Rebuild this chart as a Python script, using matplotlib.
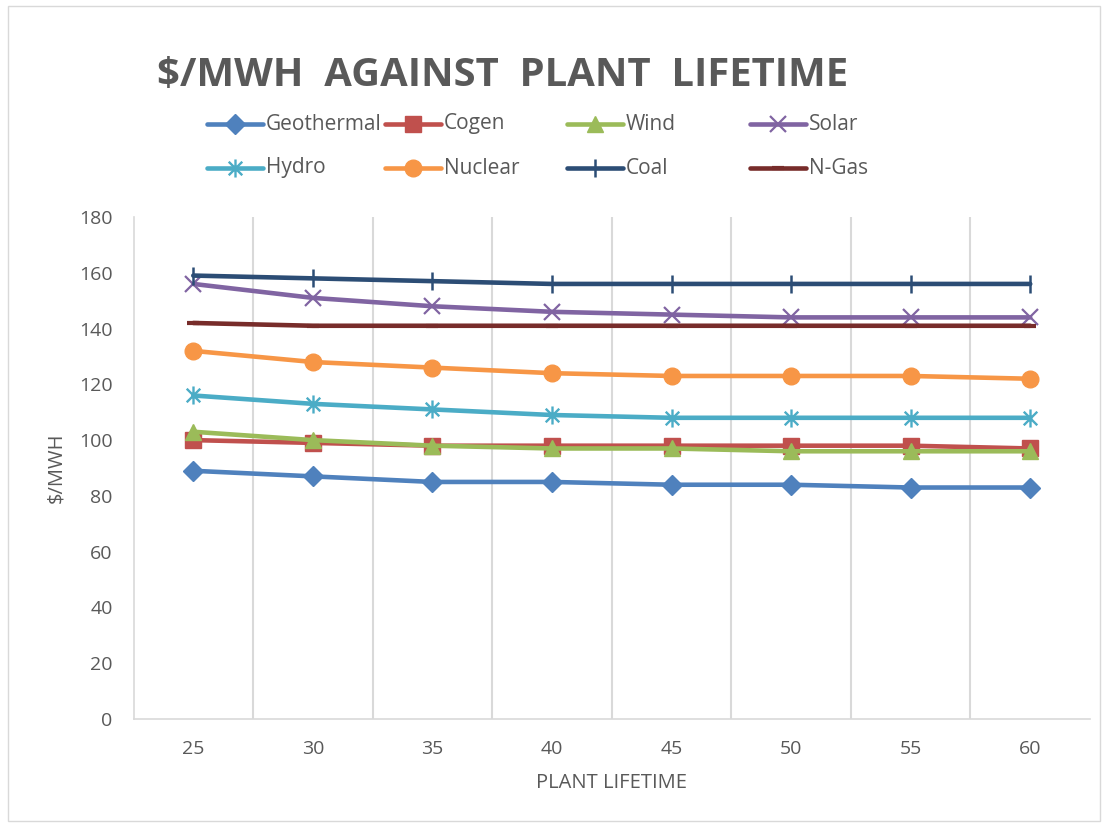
import matplotlib
matplotlib.use("Agg")
import matplotlib.pyplot as plt
from matplotlib.lines import Line2D
from matplotlib.patches import Rectangle
from matplotlib.path import Path

lifetimes = [25, 30, 35, 40, 45, 50, 55, 60]
series_names = ["Geothermal", "Cogen", "Wind", "Solar", "Hydro", "Nuclear", "Coal", "N-Gas"]
geothermal = [89, 87, 85, 85, 84, 84, 83, 83]
cogen = [100, 99, 98, 98, 98, 98, 98, 97]
wind = [103, 100, 98, 97, 97, 96, 96, 96]
solar = [156, 151, 148, 146, 145, 144, 144, 144]
hydro = [116, 113, 111, 109, 108, 108, 108, 108]
nuclear = [132, 128, 126, 124, 123, 123, 123, 122]
coal = [159, 158, 157, 156, 156, 156, 156, 156]
ngas = [142, 141, 141, 141, 141, 141, 141, 141]
y_ticks = [0, 20, 40, 60, 80, 100, 120, 140, 160, 180]

values = [geothermal, cogen, wind, solar, hydro, nuclear, coal, ngas]
colors = ["#4F81BD", "#C0504D", "#9BBB59", "#8064A2", "#4BACC6", "#F79646", "#2C4D75", "#772C2A"]

# Excel-style asterisk: vertical stroke plus an X
asterisk = Path([(0, -1), (0, 1), (-0.75, -0.75), (0.75, 0.75), (-0.75, 0.75), (0.75, -0.75)],
                [Path.MOVETO, Path.LINETO, Path.MOVETO, Path.LINETO, Path.MOVETO, Path.LINETO])
markers = ["D", "s", "^", "x", asterisk, "o", "|", "_"]
msizes = [10, 11, 12, 11, 13, 12, 13, 8]
mew = [1, 1, 1, 1.6, 1.7, 1, 1.8, 3]

W, H = 1109, 827
fig = plt.figure(figsize=(W / 100, H / 100), dpi=100)
fig.patches.append(Rectangle((8 / W, 6 / H), 1092 / W, 815 / H, transform=fig.transFigure,
                             fill=False, edgecolor="#D9D9D9", linewidth=1))

ax = fig.add_axes([133.5 / W, 1 - 719 / H, (1090 - 133.5) / W, (719 - 217) / H])
xs = list(range(len(lifetimes)))
lines = []
for name, vals, c, m, ms, mw in zip(series_names, values, colors, markers, msizes, mew):
    ln, = ax.plot(xs, vals, color=c, lw=3.3, marker=m, markersize=ms,
                  markeredgewidth=mw, markerfacecolor=c, markeredgecolor=c,
                  solid_joinstyle="round", solid_capstyle="round", label=name)
    lines.append(ln)

ax.set_xlim(-0.5, len(lifetimes) - 0.5)
ax.set_ylim(0, 180)
ax.set_yticks(y_ticks)
ax.set_yticklabels([str(v) for v in y_ticks])
ax.set_xticks(xs)
ax.set_xticklabels([str(v) for v in lifetimes])
ax.set_xticks([i + 0.5 for i in range(len(lifetimes) - 1)], minor=True)
ax.grid(True, which="minor", axis="x", color="#D9D9D9", lw=1.5)
ax.tick_params(which="both", length=0)
ax.tick_params(axis="y", labelsize=14, labelcolor="#595959", pad=15)
ax.tick_params(axis="x", labelsize=14, labelcolor="#595959", pad=15)
for s in ["top", "right"]:
    ax.spines[s].set_visible(False)
ax.spines["left"].set_color("#D9D9D9")
ax.spines["bottom"].set_color("#D9D9D9")
ax.spines["left"].set_linewidth(1.2)
ax.spines["bottom"].set_linewidth(1.2)
for lab in ax.get_xticklabels() + ax.get_yticklabels():
    lab.set_family("Open Sans")

fig.text(612 / W, 1 - 783 / H, "PLANT LIFETIME", ha="center", va="center",
         fontsize=14.5, color="#595959", family="Open Sans")
fig.text(56 / W, 1 - 468 / H, "$/MWH", ha="center", va="center", rotation=90,
         fontsize=14.5, color="#595959", family="Open Sans")

fig.text(157 / W, 1 - 76 / H, "$/MWH  AGAINST  PLANT  LIFETIME", ha="left", va="center",
         fontsize=28.8, fontweight="bold", color="#595959", family="Open Sans")

# legend
col_x = [207, 385, 567, 750]
row_y = [124, 168]
for i, ln in enumerate(lines):
    r, c = divmod(i, 4)
    x0 = col_x[c] / W
    x1 = (col_x[c] + 56) / W
    y = 1 - row_y[r] / H
    fig.add_artist(Line2D([x0, x1], [y, y], transform=fig.transFigure, color=ln.get_color(),
                          lw=3.3, solid_capstyle="round"))
    fig.add_artist(Line2D([(x0 + x1) / 2], [y], transform=fig.transFigure, color=ln.get_color(),
                          marker=ln.get_marker(), markersize=ln.get_markersize(),
                          markeredgewidth=ln.get_markeredgewidth(), lw=0))
    fig.text((col_x[c] + 59) / W, y, ln.get_label(), ha="left", va="center",
             fontsize=15, color="#595959", family="Open Sans")

fig.savefig("out.png", dpi=100)
